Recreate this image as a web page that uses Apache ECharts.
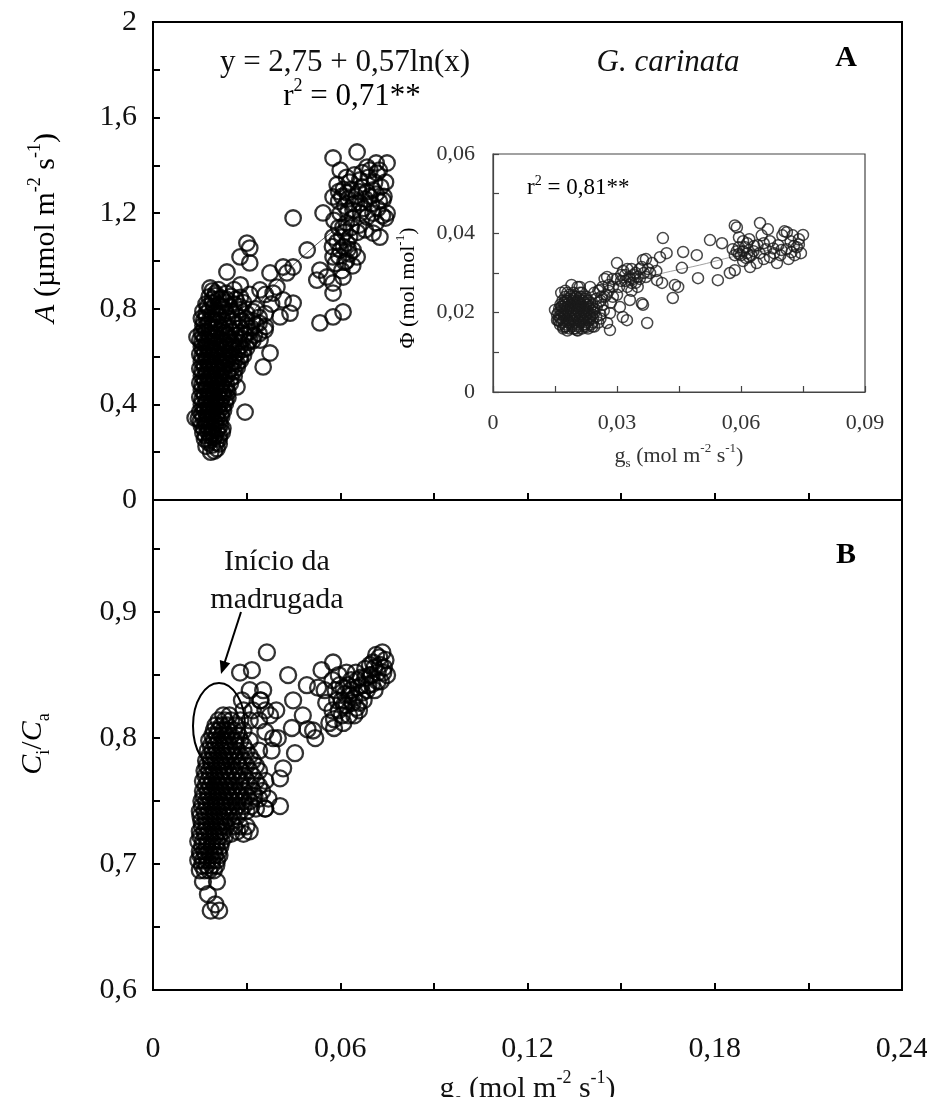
<!DOCTYPE html>
<html>
<head>
<meta charset="utf-8">
<script src="https://cdn.jsdelivr.net/npm/echarts@6/dist/echarts.min.js"></script>
<style>html,body{margin:0;padding:0;background:#fff;}#c{width:927px;height:1097px;}</style>
</head>
<body>
<div id="c"></div>
<script>
// ---------- DATA ----------
// Panel A: gs (mol m-2 s-1) vs A (µmol m-2 s-1)
const panelA_low = [
[0.0185,0.20],[0.0197,0.205],[0.0205,0.215],
[0.017,0.225],[0.019,0.23],[0.0212,0.235],
[0.0165,0.255],[0.018,0.25],[0.0195,0.26],[0.0212,0.255],
[0.016,0.28],[0.0176,0.285],[0.019,0.278],[0.0205,0.29],[0.0222,0.283],
[0.0155,0.31],[0.017,0.315],[0.0186,0.305],[0.020,0.32],[0.0216,0.312],
[0.0145,0.34],[0.016,0.345],[0.0175,0.338],[0.019,0.35],[0.0205,0.342],[0.022,0.348],
[0.015,0.37],[0.0165,0.375],[0.018,0.365],[0.0195,0.378],[0.021,0.37],[0.0226,0.375],
[0.0155,0.40],[0.017,0.405],[0.0185,0.395],[0.020,0.408],[0.0215,0.40],[0.0232,0.404],
[0.015,0.43],[0.0165,0.435],[0.018,0.425],[0.0195,0.438],[0.021,0.43],[0.0225,0.436],[0.024,0.428],
[0.0155,0.46],[0.017,0.465],[0.0185,0.455],[0.020,0.468],[0.0215,0.46],[0.023,0.466],
[0.015,0.49],[0.0165,0.495],[0.018,0.485],[0.0195,0.498],[0.021,0.49],[0.0225,0.494],[0.0248,0.488],
[0.0155,0.52],[0.017,0.525],[0.0185,0.515],[0.020,0.528],[0.022,0.52],[0.024,0.526],[0.026,0.518],
[0.015,0.55],[0.0165,0.555],[0.018,0.545],[0.0195,0.558],[0.021,0.55],[0.023,0.556],[0.025,0.548],[0.027,0.555],
[0.0155,0.58],[0.017,0.585],[0.0185,0.575],[0.020,0.588],[0.022,0.58],[0.024,0.586],[0.026,0.578],[0.028,0.584],
[0.015,0.61],[0.0165,0.615],[0.018,0.605],[0.0195,0.618],[0.021,0.61],[0.023,0.616],[0.025,0.608],[0.027,0.614],[0.029,0.606],
[0.0155,0.64],[0.017,0.645],[0.0185,0.635],[0.020,0.648],[0.022,0.64],[0.024,0.646],[0.026,0.638],[0.028,0.644],[0.030,0.636],
[0.015,0.67],[0.0165,0.675],[0.018,0.665],[0.020,0.678],[0.022,0.67],[0.024,0.676],[0.026,0.668],[0.029,0.674],[0.032,0.666],
[0.0155,0.70],[0.017,0.705],[0.019,0.695],[0.021,0.708],[0.023,0.70],[0.025,0.706],[0.028,0.698],[0.031,0.704],[0.034,0.696],
[0.016,0.73],[0.0175,0.735],[0.019,0.725],[0.021,0.738],[0.023,0.73],[0.026,0.736],[0.030,0.728],[0.033,0.734],[0.036,0.726],
[0.0155,0.76],[0.017,0.765],[0.019,0.755],[0.021,0.768],[0.024,0.76],[0.027,0.766],[0.030,0.758],[0.034,0.764],
[0.016,0.79],[0.018,0.795],[0.020,0.785],[0.022,0.798],[0.025,0.79],[0.028,0.796],[0.032,0.788],
[0.017,0.82],[0.019,0.825],[0.021,0.815],[0.023,0.828],[0.026,0.82],[0.029,0.826],
[0.018,0.85],[0.020,0.855],[0.022,0.845],[0.025,0.852],[0.028,0.848],
[0.019,0.875],[0.021,0.88]
];
const panelA_fill = [
[0.0178,0.24],[0.0203,0.24],
[0.0168,0.27],[0.0183,0.27],[0.0198,0.27],[0.0213,0.27],
[0.0162,0.30],[0.0178,0.30],[0.0193,0.30],[0.0209,0.30],[0.0224,0.30],
[0.0152,0.33],[0.0168,0.33],[0.0183,0.33],[0.0198,0.33],[0.0213,0.33],
[0.0157,0.36],[0.0172,0.36],[0.0188,0.36],[0.0203,0.36],[0.0218,0.36],
[0.0162,0.39],[0.0178,0.39],[0.0193,0.39],[0.0208,0.39],[0.0224,0.39],
[0.0157,0.42],[0.0172,0.42],[0.0188,0.42],[0.0203,0.42],[0.0218,0.42],[0.0233,0.42],
[0.0162,0.45],[0.0178,0.45],[0.0193,0.45],[0.0208,0.45],[0.0224,0.45],[0.024,0.45],
[0.0157,0.48],[0.0172,0.48],[0.0188,0.48],[0.0203,0.48],[0.0218,0.48],[0.0236,0.48],
[0.0162,0.51],[0.0178,0.51],[0.0193,0.51],[0.021,0.51],[0.023,0.51],[0.025,0.51],
[0.0157,0.54],[0.0172,0.54],[0.0188,0.54],[0.0203,0.54],[0.022,0.54],[0.024,0.54],[0.026,0.54],
[0.0162,0.57],[0.0178,0.57],[0.0193,0.57],[0.021,0.57],[0.023,0.57],[0.025,0.57],[0.027,0.57],
[0.0157,0.60],[0.0172,0.60],[0.0188,0.60],[0.0203,0.60],[0.022,0.60],[0.024,0.60],[0.026,0.60],[0.028,0.60],
[0.016,0.63],[0.0178,0.63],[0.0193,0.63],[0.021,0.63],[0.023,0.63],[0.025,0.63],[0.027,0.63],[0.029,0.63],
[0.0157,0.66],[0.0172,0.66],[0.019,0.66],[0.021,0.66],[0.023,0.66],[0.025,0.66],[0.0275,0.66],[0.0305,0.66],
[0.016,0.69],[0.018,0.69],[0.020,0.69],[0.022,0.69],[0.024,0.69],[0.0265,0.69],[0.0295,0.69],[0.0325,0.69],
[0.0165,0.72],[0.0182,0.72],[0.020,0.72],[0.022,0.72],[0.0245,0.72],[0.028,0.72],[0.0315,0.72],
[0.0162,0.75],[0.018,0.75],[0.020,0.75],[0.0225,0.75],[0.0255,0.75],[0.0285,0.75],[0.032,0.75],
[0.017,0.78],[0.019,0.78],[0.021,0.78],[0.0235,0.78],[0.0265,0.78],[0.030,0.78],
[0.0175,0.81],[0.0195,0.81],[0.022,0.81],[0.0245,0.81],[0.0275,0.81],
[0.019,0.84],[0.021,0.84],[0.0235,0.84],[0.0265,0.84],
[0.020,0.865],[0.0235,0.865]
];
const panelA_mid = [
[0.0295,0.368],[0.0353,0.557],[0.0375,0.615],[0.0407,0.766],[0.0439,0.782],[0.0417,0.837],
[0.0397,0.891],[0.0183,0.887],[0.0141,0.682],[0.0135,0.343],[0.0237,0.46],[0.0269,0.473],
[0.031,0.669],[0.0343,0.669],[0.0359,0.711],[0.033,0.80],[0.036,0.78],[0.034,0.74],
[0.031,0.86],[0.028,0.90],[0.026,0.88],[0.038,0.82],[0.036,0.86],[0.0237,0.954],
[0.0301,1.075],[0.031,1.054],[0.0279,1.017],[0.031,0.992],[0.0343,0.879],[0.0385,0.866],
[0.0429,0.95],[0.0449,0.824],[0.0375,0.95],[0.0417,0.975],[0.0449,0.975],[0.0449,1.18],
[0.0494,1.046],[0.0535,0.962],[0.0557,0.933],[0.0577,0.908],[0.0525,0.92],[0.0577,0.866],
[0.0609,0.933],[0.0609,0.787],[0.0577,0.766],[0.0535,0.741]
];
const panelA_high = [
[0.0654,1.456],[0.0577,1.431],[0.075,1.41],[0.060,1.38],[0.0686,1.393],[0.0718,1.368],
[0.0663,1.339],[0.0577,1.268],[0.0622,1.285],[0.0705,1.297],[0.0737,1.255],[0.0663,1.243],
[0.0545,1.201],[0.075,1.20],[0.060,1.20],[0.0641,1.213],[0.0686,1.184],[0.0705,1.117],
[0.0727,1.10],[0.0609,1.142],[0.0577,1.10],[0.0622,1.075],[0.0641,1.046],[0.060,1.046],
[0.0654,1.017],[0.0577,1.017],[0.059,1.32],[0.061,1.30],[0.063,1.33],[0.067,1.31],
[0.069,1.35],[0.071,1.33],[0.073,1.31],[0.0595,1.25],[0.0615,1.23],[0.065,1.27],
[0.068,1.26],[0.070,1.24],[0.072,1.22],[0.074,1.27],[0.058,1.17],[0.062,1.16],
[0.064,1.18],[0.066,1.15],[0.068,1.13],[0.0715,1.16],[0.059,1.08],[0.061,1.06],
[0.063,1.10],[0.0575,1.06],[0.062,1.00],[0.064,0.98],[0.0605,0.96],[0.0585,0.99],
[0.0675,1.22],[0.0725,1.38],[0.0745,1.33],[0.067,1.37],
[0.0595,1.29],[0.0605,1.27],[0.0625,1.26],[0.0635,1.30],[0.0645,1.24],[0.066,1.29],
[0.0685,1.29],[0.0695,1.27],[0.0715,1.28],[0.0725,1.25],[0.0735,1.19],[0.0705,1.20],
[0.0665,1.20],[0.0625,1.21],[0.0595,1.14],[0.0615,1.12],[0.0635,1.14],[0.0655,1.12],
[0.0605,1.10],[0.0625,1.05],[0.0595,1.02],[0.0615,0.995],[0.063,1.03],[0.0745,1.18],
[0.0715,1.41],[0.0695,1.38],[0.0645,1.36],[0.062,1.35]
];
// fitted curve of panel A, y = 2,75 + 0,57 ln(x), read at a few gs values
const fitA = [[0.015,0.356],[0.02,0.52],[0.025,0.647],[0.03,0.751],[0.04,0.915],[0.05,1.042],[0.06,1.146],[0.07,1.234],[0.075,1.274]];

// Inset: gs vs Φ (mol mol-1)
const inset_dense = [
[0.017,0.016],[0.0185,0.016],[0.020,0.016],[0.0215,0.016],[0.023,0.016],
[0.0162,0.017],[0.0177,0.017],[0.0192,0.017],[0.0207,0.017],[0.0222,0.017],[0.0237,0.017],
[0.0158,0.018],[0.017,0.018],[0.0182,0.018],[0.0195,0.018],[0.0208,0.018],[0.022,0.018],[0.0232,0.018],
[0.016,0.019],[0.0172,0.019],[0.0185,0.019],[0.0198,0.019],[0.021,0.019],[0.0222,0.019],[0.0235,0.019],[0.025,0.019],
[0.0158,0.020],[0.017,0.020],[0.0182,0.020],[0.0195,0.020],[0.0208,0.020],[0.022,0.020],[0.0232,0.020],[0.0245,0.020],
[0.016,0.021],[0.0172,0.021],[0.0185,0.021],[0.0198,0.021],[0.021,0.021],[0.0222,0.021],[0.0235,0.021],
[0.0163,0.022],[0.0175,0.022],[0.0188,0.022],[0.020,0.022],[0.0212,0.022],[0.0225,0.022],[0.024,0.022],
[0.0168,0.023],[0.018,0.023],[0.0193,0.023],[0.0205,0.023],[0.0218,0.023],[0.023,0.023],
[0.0175,0.024],[0.0188,0.024],[0.020,0.024],[0.0212,0.024],[0.0225,0.024],
[0.018,0.025],[0.0195,0.025],[0.021,0.025],
[0.0245,0.0165],[0.0255,0.0175],[0.026,0.0185],[0.0268,0.0205],[0.0255,0.0225],[0.0262,0.024],
[0.0245,0.025],[0.0235,0.0265],[0.0205,0.0265],[0.019,0.027],[0.0175,0.0255],
[0.0176,0.0165],[0.0191,0.0165],[0.0206,0.0165],[0.0221,0.0165],
[0.0166,0.0175],[0.0181,0.0175],[0.0196,0.0175],[0.0211,0.0175],[0.0226,0.0175],[0.0241,0.0175],
[0.0164,0.0185],[0.0178,0.0185],[0.0191,0.0185],[0.0204,0.0185],[0.0216,0.0185],[0.0228,0.0185],[0.0242,0.0185],
[0.0164,0.0195],[0.0176,0.0195],[0.0189,0.0195],[0.0202,0.0195],[0.0214,0.0195],[0.0227,0.0195],[0.024,0.0195],
[0.0165,0.0205],[0.0177,0.0205],[0.019,0.0205],[0.0203,0.0205],[0.0216,0.0205],[0.0228,0.0205],[0.0241,0.0205],
[0.0167,0.0215],[0.018,0.0215],[0.0192,0.0215],[0.0205,0.0215],[0.0218,0.0215],[0.023,0.0215],
[0.0172,0.0225],[0.0184,0.0225],[0.0197,0.0225],[0.021,0.0225],[0.0222,0.0225],[0.0235,0.0225],
[0.0182,0.0235],[0.0195,0.0235],[0.0208,0.0235],[0.022,0.0235]
];
const inset_low = [
[0.016,0.018],[0.017,0.0195],[0.018,0.021],[0.019,0.0225],[0.0175,0.023],[0.0165,0.0215],
[0.0185,0.0175],[0.0195,0.019],[0.0205,0.0205],[0.021,0.022],[0.020,0.024],[0.0215,0.0185],
[0.022,0.017],[0.0225,0.020],[0.023,0.022],[0.0235,0.0185],[0.024,0.0165],[0.0245,0.021],
[0.025,0.0235],[0.0195,0.016],[0.018,0.0155],[0.0205,0.0155],[0.0215,0.025],[0.0185,0.0245],
[0.0175,0.0165],[0.0225,0.0235],[0.026,0.0195],[0.0265,0.022],[0.0255,0.0255],[0.021,0.0265],
[0.0155,0.0195],[0.0165,0.025],[0.0275,0.0245],[0.028,0.027],[0.027,0.0285],[0.0227,0.0164],
[0.0203,0.0156],[0.017,0.0164],[0.015,0.0207],[0.0155,0.0181]
];
const inset_mid = [
[0.030,0.0325],[0.0363,0.0333],[0.038,0.030],[0.0397,0.0282],[0.0409,0.0275],[0.0276,0.029],
[0.0259,0.0257],[0.029,0.024],[0.0307,0.0214],[0.0331,0.0232],[0.0363,0.022],[0.0314,0.0189],
[0.0283,0.0199],[0.0251,0.0214],[0.0276,0.0174],[0.0373,0.0174],[0.0283,0.0156],[0.0324,0.0181],
[0.036,0.0224],[0.032,0.028],[0.033,0.029],[0.034,0.0285],[0.0345,0.030],[0.0355,0.031],
[0.0335,0.0275],[0.031,0.0295],[0.0325,0.031],[0.036,0.0315],[0.037,0.029],[0.0385,0.0325],
[0.0395,0.0305],[0.035,0.0265],[0.0305,0.0265],[0.029,0.0285],[0.0335,0.0255],[0.037,0.0335],
[0.031,0.028],[0.032,0.0295],[0.033,0.0285],[0.034,0.0295],[0.035,0.029],[0.0315,0.0305],
[0.0335,0.031],[0.0345,0.0275],[0.0355,0.0285],[0.0365,0.030],[0.0375,0.031],[0.0325,0.0265],
[0.030,0.0285],[0.029,0.0265],[0.028,0.0255],[0.027,0.024],[0.0265,0.0265],[0.030,0.0245],
[0.0285,0.0225],[0.026,0.023],
[0.0435,0.0237],[0.0448,0.0265],[0.0457,0.0313],[0.044,0.027],[0.0411,0.0388],[0.042,0.035],
[0.0404,0.034],[0.046,0.0353],[0.0493,0.0345],[0.0496,0.0287],[0.0544,0.0282],[0.0541,0.0325],
[0.0525,0.0383],[0.0554,0.0375],[0.0573,0.030],[0.0585,0.0307]
];
const inset_high = [
[0.0585,0.042],[0.059,0.0415],[0.0646,0.0426],[0.075,0.0396],[0.0711,0.0403],[0.0687,0.0325],
[0.0638,0.0325],[0.0622,0.0315],[0.058,0.036],[0.059,0.0355],[0.060,0.0345],[0.061,0.0365],
[0.0615,0.035],[0.062,0.034],[0.063,0.0355],[0.0605,0.038],[0.062,0.0385],[0.064,0.037],
[0.065,0.0395],[0.066,0.036],[0.067,0.038],[0.068,0.035],[0.069,0.037],[0.070,0.0395],
[0.071,0.036],[0.072,0.038],[0.073,0.0345],[0.0735,0.0365],[0.074,0.0385],[0.0745,0.035],
[0.0725,0.0395],[0.0655,0.0335],[0.067,0.034],[0.0695,0.0345],[0.0715,0.0335],[0.0665,0.041],
[0.0705,0.0405],[0.0605,0.033],[0.0595,0.039],
[0.0585,0.0345],[0.0595,0.0365],[0.0605,0.0355],[0.0615,0.0375],[0.0625,0.0345],[0.0612,0.0338],
[0.0632,0.0368],[0.0595,0.0348],[0.0645,0.035],[0.0655,0.0375],[0.0678,0.0362],[0.0698,0.0358],
[0.0722,0.0352],[0.074,0.0372],[0.0728,0.0368]
];
const fitInset = [[0.016,0.0195],[0.02,0.0225],[0.025,0.025],[0.03,0.027],[0.04,0.0297],[0.05,0.032],[0.06,0.0345],[0.075,0.037]];

// Panel B: gs vs Ci/Ca
const panelB_main = [
[0.0185,0.663],[0.0212,0.663],[0.020,0.668],[0.0176,0.676],[0.0205,0.686],[0.016,0.686],
[0.015,0.695],[0.0165,0.695],[0.018,0.695],[0.0195,0.695],
[0.0145,0.703],[0.016,0.703],[0.0175,0.703],[0.019,0.703],[0.0205,0.703],
[0.015,0.71],[0.0165,0.71],[0.018,0.71],[0.0195,0.71],[0.021,0.71],
[0.0145,0.718],[0.016,0.718],[0.0175,0.718],[0.019,0.718],[0.0205,0.718],[0.022,0.718],
[0.015,0.726],[0.0165,0.726],[0.018,0.726],[0.0195,0.726],[0.021,0.726],[0.0225,0.726],[0.025,0.724],[0.027,0.726],[0.029,0.724],[0.031,0.726],
[0.0155,0.734],[0.017,0.734],[0.0185,0.734],[0.020,0.734],[0.0215,0.734],[0.023,0.734],[0.025,0.734],
[0.015,0.742],[0.0165,0.742],[0.018,0.742],[0.0195,0.742],[0.021,0.742],[0.0225,0.742],[0.024,0.742],[0.026,0.742],[0.028,0.742],[0.030,0.742],[0.033,0.744],[0.036,0.744],
[0.0155,0.75],[0.017,0.75],[0.0185,0.75],[0.020,0.75],[0.0215,0.75],[0.023,0.75],[0.025,0.75],[0.027,0.75],[0.029,0.75],[0.031,0.75],[0.034,0.752],[0.037,0.752],
[0.016,0.758],[0.0175,0.758],[0.019,0.758],[0.0205,0.758],[0.022,0.758],[0.0235,0.758],[0.025,0.758],[0.027,0.758],[0.029,0.758],[0.032,0.758],[0.035,0.758],
[0.016,0.766],[0.0175,0.766],[0.019,0.766],[0.0205,0.766],[0.022,0.766],[0.024,0.766],[0.026,0.766],[0.028,0.766],[0.030,0.766],[0.033,0.766],[0.036,0.766],
[0.0165,0.774],[0.018,0.774],[0.0195,0.774],[0.021,0.774],[0.0225,0.774],[0.024,0.774],[0.026,0.774],[0.028,0.774],[0.031,0.774],[0.034,0.774],
[0.017,0.782],[0.0185,0.782],[0.020,0.782],[0.0215,0.782],[0.023,0.782],[0.025,0.782],[0.027,0.782],[0.029,0.782],[0.032,0.782],
[0.0175,0.79],[0.019,0.79],[0.0205,0.79],[0.022,0.79],[0.0235,0.79],[0.025,0.79],[0.027,0.79],[0.030,0.79],[0.034,0.79],
[0.018,0.798],[0.0195,0.798],[0.021,0.798],[0.0225,0.798],[0.024,0.798],[0.026,0.798],[0.028,0.798],[0.031,0.798],
[0.0195,0.806],[0.021,0.806],[0.0225,0.806],[0.024,0.806],[0.026,0.806],[0.029,0.806],
[0.021,0.814],[0.023,0.814],[0.025,0.814],[0.028,0.814],[0.031,0.814],
[0.029,0.822],[0.032,0.822],[0.0285,0.83],[0.0345,0.83],[0.031,0.838],[0.0353,0.838]
];
const panelB_fill = [
[0.0157,0.699],[0.0172,0.699],[0.0188,0.699],[0.0203,0.699],
[0.0152,0.707],[0.0168,0.707],[0.0183,0.707],[0.0198,0.707],[0.0213,0.707],
[0.0157,0.714],[0.0172,0.714],[0.0188,0.714],[0.0203,0.714],[0.0216,0.714],
[0.0152,0.722],[0.0168,0.722],[0.0183,0.722],[0.0198,0.722],[0.0213,0.722],[0.023,0.722],
[0.0157,0.73],[0.0172,0.73],[0.0188,0.73],[0.0203,0.73],[0.0218,0.73],[0.0235,0.73],[0.026,0.73],[0.028,0.73],[0.030,0.73],
[0.0152,0.738],[0.0168,0.738],[0.0183,0.738],[0.0198,0.738],[0.0213,0.738],[0.023,0.738],[0.0245,0.738],[0.027,0.738],
[0.0157,0.746],[0.0172,0.746],[0.0188,0.746],[0.0203,0.746],[0.0218,0.746],[0.0233,0.746],[0.025,0.746],[0.027,0.746],[0.029,0.746],[0.0315,0.746],
[0.0162,0.754],[0.0178,0.754],[0.0193,0.754],[0.0208,0.754],[0.0223,0.754],[0.024,0.754],[0.026,0.754],[0.028,0.754],[0.030,0.754],[0.0325,0.754],
[0.0168,0.762],[0.0183,0.762],[0.0198,0.762],[0.0213,0.762],[0.023,0.762],[0.0245,0.762],[0.026,0.762],[0.028,0.762],[0.031,0.762],[0.034,0.762],
[0.0168,0.77],[0.0183,0.77],[0.0198,0.77],[0.0213,0.77],[0.023,0.77],[0.025,0.77],[0.027,0.77],[0.029,0.77],[0.032,0.77],
[0.0172,0.778],[0.0188,0.778],[0.0203,0.778],[0.0218,0.778],[0.0235,0.778],[0.0255,0.778],[0.0275,0.778],[0.030,0.778],[0.033,0.778],
[0.018,0.786],[0.0195,0.786],[0.021,0.786],[0.0225,0.786],[0.024,0.786],[0.026,0.786],[0.028,0.786],[0.031,0.786],
[0.0185,0.794],[0.020,0.794],[0.0215,0.794],[0.023,0.794],[0.0245,0.794],[0.0265,0.794],[0.029,0.794],
[0.019,0.802],[0.0205,0.802],[0.022,0.802],[0.0235,0.802],[0.025,0.802],[0.0275,0.802],
[0.020,0.81],[0.022,0.81],[0.024,0.81],[0.0265,0.81],
[0.0225,0.818],[0.0245,0.818]
];
const panelB_spread = [
[0.0365,0.868],[0.0279,0.852],[0.0317,0.854],[0.0433,0.85],[0.0493,0.842],[0.0529,0.84],
[0.054,0.854],[0.0577,0.86],[0.0449,0.83],[0.048,0.818],[0.0445,0.808],[0.0513,0.806],
[0.0455,0.788],[0.0417,0.776],[0.0407,0.768],[0.0375,0.818],[0.0385,0.80],[0.0343,0.83],
[0.036,0.822],[0.0395,0.822],[0.0407,0.746],[0.0359,0.744],[0.038,0.79],[0.040,0.80],
[0.0495,0.807],[0.052,0.80],[0.036,0.805],[0.034,0.814]
];
const panelB_upper = [
[0.0565,0.812],[0.058,0.808],[0.0575,0.822],[0.059,0.83],[0.0585,0.838],[0.0575,0.846],
[0.0595,0.85],[0.061,0.84],[0.062,0.826],[0.0605,0.818],[0.063,0.834],[0.0635,0.846],
[0.062,0.852],[0.064,0.828],[0.0655,0.84],[0.065,0.852],[0.066,0.822],[0.067,0.836],
[0.0665,0.848],[0.068,0.855],[0.069,0.842],[0.070,0.85],[0.0705,0.86],[0.071,0.838],
[0.072,0.852],[0.0725,0.864],[0.073,0.845],[0.074,0.856],[0.0745,0.862],[0.075,0.85],
[0.0735,0.868],[0.0715,0.866],[0.0695,0.858],[0.0675,0.83],[0.0645,0.818],[0.061,0.812],
[0.0555,0.828],[0.055,0.838],
[0.058,0.815],[0.0595,0.822],[0.0605,0.83],[0.0615,0.835],[0.0625,0.842],[0.0635,0.838],
[0.0645,0.832],[0.0655,0.846],[0.066,0.828],[0.0668,0.842],[0.068,0.848],[0.0685,0.838],
[0.0695,0.85],[0.0702,0.843],[0.071,0.856],[0.072,0.845],[0.0728,0.858],[0.0738,0.852],
[0.0598,0.842],[0.0612,0.826],[0.0628,0.818],[0.0652,0.824]
];

// tick label values
const xLabelsMain = [0, 0.06, 0.12, 0.18, 0.24];
const yLabelsA = [0, 0.4, 0.8, 1.2, 1.6, 2];
const yLabelsB = [0.6, 0.7, 0.8, 0.9];
const xLabelsInset = [0, 0.03, 0.06, 0.09];
const yLabelsInset = [0, 0.02, 0.04, 0.06];

// ---------- CHART ----------
const FF = "'Liberation Serif','Times New Roman',serif";
function fmt(v){ return String(+v.toFixed(4)).replace('.', ','); }
function only(list){ return function(v){ return list.some(function(t){return Math.abs(t - v) < 1e-7;}) ? fmt(v) : ''; }; }

function richSet(fs, sfs, lh, color){
  return {
    n: {fontSize: fs, fontFamily: FF, color: color, lineHeight: lh},
    i: {fontSize: fs, fontFamily: FF, color: color, lineHeight: lh, fontStyle: 'italic'},
    sup: {fontSize: sfs, fontFamily: FF, color: color, lineHeight: sfs, verticalAlign: 'top'},
    sub: {fontSize: sfs, fontFamily: FF, color: color, lineHeight: sfs, verticalAlign: 'bottom'}
  };
}

const mainLine = {show: true, lineStyle: {color: '#000', width: 2}};
const mainTick = {show: true, inside: true, length: 7, lineStyle: {color: '#000', width: 2}};
const insetLine = {show: true, lineStyle: {color: '#444', width: 1.2}};
const insetTick = {show: true, inside: true, length: 6, lineStyle: {color: '#444', width: 1.2}};
const mainLabel = {fontSize: 30, fontFamily: FF, color: '#111'};
const insetLabel = {fontSize: 22, fontFamily: FF, color: '#333'};

const chart = echarts.init(document.getElementById('c'), null, {renderer: 'canvas'});

const openCircle = function(size, bw, col){
  return {symbol: 'circle', symbolSize: size, itemStyle: {color: 'rgba(0,0,0,0)', borderColor: col, borderWidth: bw}};
};

chart.setOption({
  animation: false,
  backgroundColor: '#fff',
  grid: [
    {left: 153, top: 22, width: 749, height: 478, show: true, borderColor: '#000', borderWidth: 2, backgroundColor: 'rgba(0,0,0,0)', containLabel: false, outerBoundsMode: 'none'},
    {left: 153, top: 500, width: 749, height: 490, show: true, borderColor: '#000', borderWidth: 2, backgroundColor: 'rgba(0,0,0,0)', containLabel: false, outerBoundsMode: 'none'},
    {left: 493, top: 154, width: 372, height: 238, show: true, borderColor: '#444', borderWidth: 1.2, backgroundColor: 'rgba(0,0,0,0)', containLabel: false, outerBoundsMode: 'none'}
  ],
  xAxis: [
    {gridIndex: 0, type: 'value', min: 0, max: 0.24, interval: 0.03, axisLine: mainLine, axisTick: mainTick,
     axisLabel: {show: false}, splitLine: {show: false}},
    {gridIndex: 1, type: 'value', min: 0, max: 0.24, interval: 0.03, axisLine: mainLine, axisTick: mainTick,
     axisLabel: Object.assign({margin: 44, formatter: only(xLabelsMain)}, mainLabel), splitLine: {show: false},
     name: '{n|g}{sub|s}{n| (mol m}{sup|-2}{n| s}{sup|-1}{n|)}', nameLocation: 'middle', nameGap: 79,
     nameTextStyle: {rich: richSet(30, 18, 40, '#111')}},
    {gridIndex: 2, type: 'value', min: 0, max: 0.09, interval: 0.015, axisLine: insetLine, axisTick: insetTick,
     axisLabel: Object.assign({margin: 20, formatter: only(xLabelsInset)}, insetLabel), splitLine: {show: false},
     name: '{n|g}{sub|s}{n| (mol m}{sup|-2}{n| s}{sup|-1}{n|)}', nameLocation: 'middle', nameGap: 50,
     nameTextStyle: {rich: richSet(22, 13, 28, '#333')}}
  ],
  yAxis: [
    {gridIndex: 0, type: 'value', min: 0, max: 2, interval: 0.2, axisLine: mainLine, axisTick: mainTick,
     axisLabel: Object.assign({margin: 16, formatter: only(yLabelsA)}, mainLabel), splitLine: {show: false}},
    {gridIndex: 1, type: 'value', min: 0.6, max: 0.989, interval: 0.05, axisLine: mainLine, axisTick: mainTick,
     axisLabel: Object.assign({margin: 16, formatter: only(yLabelsB)}, mainLabel), splitLine: {show: false}},
    {gridIndex: 2, type: 'value', min: 0, max: 0.06, interval: 0.01, axisLine: insetLine, axisTick: insetTick,
     axisLabel: Object.assign({margin: 18, formatter: only(yLabelsInset)}, insetLabel), splitLine: {show: false}}
  ],
  series: [
    Object.assign({type: 'scatter', xAxisIndex: 0, yAxisIndex: 0, silent: true,
      data: panelA_low.concat(panelA_fill, panelA_mid, panelA_high)}, openCircle(15.5, 2.3, '#000')),
    {type: 'line', xAxisIndex: 0, yAxisIndex: 0, data: fitA, smooth: true, showSymbol: false, silent: true,
     lineStyle: {color: '#555', width: 1}, z: 1},
    Object.assign({type: 'scatter', xAxisIndex: 2, yAxisIndex: 2, silent: true,
      data: inset_dense.concat(inset_low, inset_mid, inset_high)}, openCircle(11, 1.5, '#1a1a1a')),
    {type: 'line', xAxisIndex: 2, yAxisIndex: 2, data: fitInset, smooth: true, showSymbol: false, silent: true,
     lineStyle: {color: '#888', width: 0.8}, z: 1},
    Object.assign({type: 'scatter', xAxisIndex: 1, yAxisIndex: 1, silent: true,
      data: panelB_main.concat(panelB_fill, panelB_spread, panelB_upper)}, openCircle(16, 2.3, '#000'))
  ],
  graphic: [
    {type: 'text', x: 46, y: 228, rotation: Math.PI / 2, silent: true,
     style: {text: '{i|A}{n| (µmol m}{sup|-2}{n| s}{sup|-1}{n|)}', rich: richSet(30, 18, 40, '#111'), align: 'center', verticalAlign: 'middle'}},
    {type: 'text', x: 33, y: 744, rotation: Math.PI / 2, silent: true,
     style: {text: '{i|C}{sub|i}{n|/}{i|C}{sub|a}', rich: richSet(30, 18, 40, '#111'), align: 'center', verticalAlign: 'middle'}},
    {type: 'text', x: 408, y: 288, rotation: Math.PI / 2, silent: true,
     style: {text: '{n|Φ (mol mol}{sup|-1}{n|)}', rich: richSet(22, 13, 28, '#333'), align: 'center', verticalAlign: 'middle'}},
    {type: 'text', x: 345, y: 63, silent: true,
     style: {text: 'y = 2,75 + 0,57ln(x)', font: '31px ' + FF, fill: '#111', align: 'center', verticalAlign: 'middle'}},
    {type: 'text', x: 352, y: 97, silent: true,
     style: {text: '{n|r}{sup|2}{n| = 0,71**}', rich: richSet(31, 18, 40, '#111'), align: 'center', verticalAlign: 'middle'}},
    {type: 'text', x: 668, y: 63, silent: true,
     style: {text: 'G. carinata', font: 'italic 31px ' + FF, fill: '#111', align: 'center', verticalAlign: 'middle'}},
    {type: 'text', x: 846, y: 58, silent: true,
     style: {text: 'A', font: 'bold 30px ' + FF, fill: '#000', align: 'center', verticalAlign: 'middle'}},
    {type: 'text', x: 846, y: 555, silent: true,
     style: {text: 'B', font: 'bold 30px ' + FF, fill: '#000', align: 'center', verticalAlign: 'middle'}},
    {type: 'text', x: 527, y: 188, silent: true,
     style: {text: '{n|r}{sup|2}{n| = 0,81**}', rich: richSet(23, 14, 28, '#333'), align: 'left', verticalAlign: 'middle'}},
    {type: 'text', x: 277, y: 562, silent: true,
     style: {text: 'Início da', font: '30px ' + FF, fill: '#111', align: 'center', verticalAlign: 'middle'}},
    {type: 'text', x: 277, y: 600, silent: true,
     style: {text: 'madrugada', font: '30px ' + FF, fill: '#111', align: 'center', verticalAlign: 'middle'}},
    {type: 'line', silent: true, shape: {x1: 241, y1: 612, x2: 224.5, y2: 663}, style: {stroke: '#000', lineWidth: 2}},
    {type: 'polygon', silent: true, shape: {points: [[221, 674], [230.2, 663.3], [219.8, 659.9]]}, style: {fill: '#000'}},
    {type: 'ellipse', silent: true, z: 0, shape: {cx: 219, cy: 726, rx: 26, ry: 43}, style: {fill: 'none', stroke: '#000', lineWidth: 2}}
  ]
});
</script>
</body>
</html>
